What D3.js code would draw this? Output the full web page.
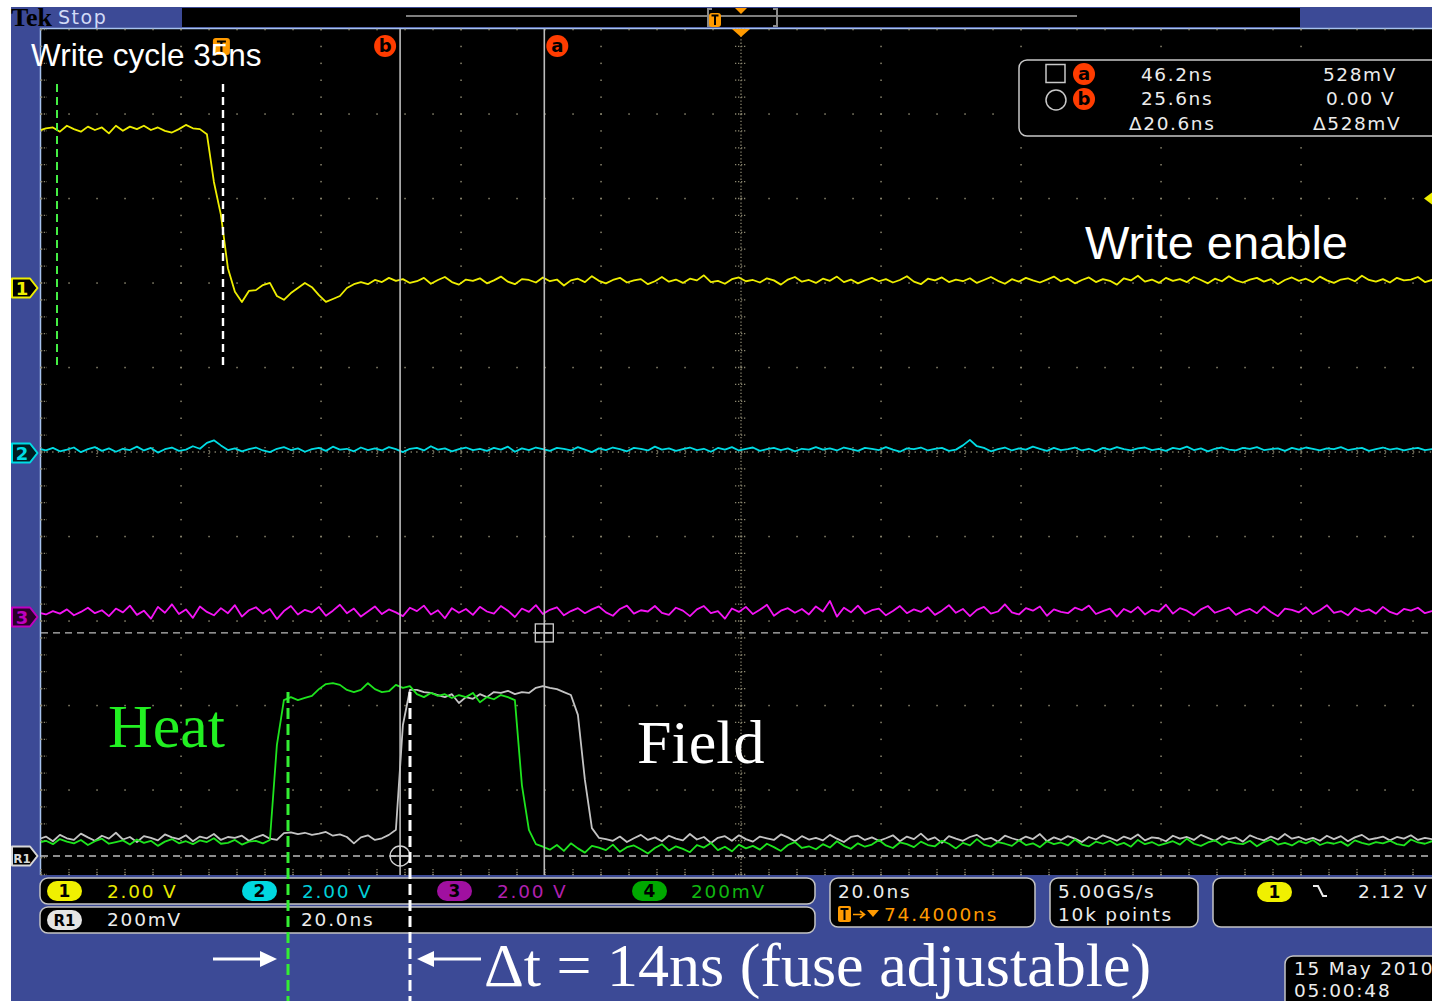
<!DOCTYPE html>
<html><head><meta charset="utf-8">
<script src="https://cdn.jsdelivr.net/npm/d3@7"></script>
<style>html,body{margin:0;padding:0;background:#fff;overflow:hidden}</style>
</head><body>
<svg id="c" width="1432" height="1001"></svg>
<script>
// ---------- DATA (1 ns sampling, first sample at t = -26 ns) ----------
const startTime = -26;
const ch1Volts = [3.72,3.78,3.80,3.70,3.84,3.76,3.70,3.82,3.74,3.80,3.66,3.84,3.72,3.82,3.76,3.84,3.74,3.80,3.72,3.68,3.76,3.86,3.78,3.76,
3.64,2.51,1.73,0.47,-0.09,-0.33,-0.07,-0.05,
0.07,0.12,-0.19,-0.28,-0.12,0.00,0.12,0.02,-0.17,-0.33,-0.26,-0.19,0.00,0.09,0.14,0.09,0.19,0.14,0.24,0.17,
0.21,0.12,0.16,0.24,0.10,0.19,0.26,0.14,0.08,0.20,0.17,0.23,0.11,0.18,0.27,0.15,0.09,0.21,0.19,0.13,
0.25,0.16,0.20,0.06,0.18,0.22,0.14,0.28,0.17,0.11,0.19,0.24,0.13,0.18,0.21,0.09,0.16,0.26,0.15,0.20,
0.12,0.22,0.18,0.30,0.14,0.17,0.10,0.21,0.25,0.16,0.19,0.13,0.23,0.18,0.08,0.20,0.26,0.15,0.19,0.12,
0.22,0.17,0.27,0.14,0.20,0.11,0.18,0.24,0.16,0.21,0.13,0.19,0.28,0.15,0.09,0.22,0.18,0.25,0.14,0.20,
0.16,0.23,0.12,0.19,0.26,0.17,0.10,0.21,0.15,0.24,0.18,0.13,0.20,0.27,0.16,0.22,0.11,0.19,0.25,0.14,
0.21,0.17,0.08,0.23,0.18,0.29,0.15,0.20,0.12,0.24,0.17,0.21,0.14,0.26,0.19,0.11,0.22,0.16,0.28,0.18,
0.13,0.20,0.24,0.15,0.21,0.09,0.19,0.25,0.17,0.22,0.14,0.27,0.18,0.12,0.20,0.23,0.16,0.29,0.19,0.15,
0.21,0.13,0.24,0.18,0.20,0.26,0.14,0.19,0.22];
const ch2Volts = [0.10,0.06,0.12,0.04,0.08,0.13,0.02,0.09,0.14,0.05,0.11,0.03,0.10,0.07,0.15,0.06,0.12,0.01,0.09,0.13,
0.05,0.08,0.16,0.10,0.24,0.30,0.18,0.07,0.11,0.04,0.09,0.13,0.06,0.02,0.10,0.14,0.07,0.11,0.03,0.09,
0.12,0.05,0.15,0.08,0.10,0.04,0.13,0.07,0.11,0.06,0.14,0.09,0.02,0.10,0.12,0.06,0.16,0.08,0.11,0.04,
0.09,0.13,0.07,0.10,0.05,0.12,0.08,0.15,0.03,0.11,0.07,0.13,0.09,0.05,0.12,0.10,0.06,0.14,0.08,0.02,
0.11,0.07,0.13,0.09,0.04,0.12,0.10,0.06,0.15,0.08,0.11,0.05,0.09,0.13,0.07,0.10,0.03,0.12,0.08,0.14,
0.06,0.10,0.13,0.05,0.09,0.12,0.07,0.11,0.04,0.10,0.08,0.14,0.08,0.11,0.06,0.13,0.09,0.05,0.12,0.10,
0.07,0.14,0.08,0.03,0.11,0.09,0.13,0.06,0.10,0.12,0.05,0.08,0.18,0.31,0.16,0.12,0.04,0.09,0.13,0.06,
0.11,0.08,0.15,0.10,0.05,0.12,0.07,0.09,0.13,0.06,0.10,0.04,0.12,0.08,0.14,0.09,0.06,0.11,0.13,0.07,
0.10,0.05,0.12,0.09,0.15,0.07,0.11,0.04,0.10,0.13,0.08,0.06,0.12,0.10,0.14,0.07,0.09,0.11,0.05,0.12,
0.08,0.13,0.10,0.06,0.11,0.09,0.14,0.07,0.10,0.12,0.05,0.09,0.13,0.08,0.11,0.06,0.10,0.12,0.07,0.09,
0.11];
const ch3Volts = [0.10,0.06,0.14,0.08,0.18,0.04,0.12,0.22,0.09,0.16,0.02,0.20,0.11,0.27,0.05,0.15,-0.04,0.24,0.10,0.30,
0.07,0.18,-0.02,0.25,0.12,0.04,0.21,0.09,0.28,0.01,0.16,0.23,0.08,0.19,-0.05,0.14,0.26,0.06,0.17,0.11,
0.24,0.03,0.15,0.29,0.09,0.20,0.01,0.13,0.25,0.07,0.18,0.11,0.02,0.22,0.14,0.27,0.06,0.16,-0.03,0.21,
0.10,0.19,0.05,0.24,0.13,0.08,0.26,0.15,0.00,0.20,0.12,0.28,0.07,0.17,0.23,0.04,0.14,0.21,0.09,0.18,
0.25,0.11,0.03,0.19,0.27,0.08,0.16,0.13,0.26,0.10,0.05,0.22,0.15,0.02,0.18,0.26,0.09,0.14,-0.04,0.20,
0.12,0.24,0.07,0.17,0.29,0.03,0.15,0.21,0.10,0.19,0.06,0.25,0.13,0.38,0.01,0.22,0.11,0.27,0.08,0.16,
0.20,0.04,0.14,0.26,0.09,0.18,0.12,0.23,0.05,0.15,0.28,0.10,0.19,0.02,0.17,0.24,0.08,0.13,0.30,0.11,
0.06,0.21,0.15,0.25,0.03,0.18,0.12,0.09,0.22,0.16,0.27,0.07,0.14,0.20,0.01,0.19,0.11,0.24,0.06,0.17,
0.13,0.29,0.08,0.21,0.15,0.04,0.18,0.26,0.10,0.16,0.22,0.05,0.14,0.19,0.09,0.25,0.12,0.02,0.20,0.17,
0.11,0.23,0.07,0.16,0.28,0.10,0.14,0.04,0.21,0.13,0.18,0.08,0.24,0.12,0.06,0.19,0.15,0.22,0.09,0.14,
0.12];
const ch4mV = [32,36,28,40,34,30,38,26,35,41,29,33,37,27,39,31,36,24,34,40,30,35,28,37,33,42,29,31,38,27,34,36,30,
38,263,369,
376,369,374,379,395,407,409,405,393,388,393,409,395,388,390,405,398,402,383,376,386,379,383,374,381,376,386,364,376,371,381,376,369,
168,62,28,
22,15,26,12,30,18,8,24,20,14,27,10,21,25,16,6,19,28,13,23,17,9,26,20,31,14,22,11,27,18,
24,15,29,21,12,26,33,19,23,16,28,20,35,24,17,30,22,27,38,25,19,32,28,21,34,26,23,36,29,18,
31,25,40,27,22,33,29,24,37,26,30,21,35,28,32,25,39,27,23,34,29,36,26,31,22,38,28,33,25,30,
35,27,41,29,24,32,37,26,34,30,28,36,23,33,39,27,31,25,35,30,38,26,32,29,34,24,37,31,27,33,
30,36,28,25,39,32,29,35,31];
const ref1mV = [40,46,35,50,42,38,53,44,36,48,41,55,39,45,33,47,43,37,51,44,40,49,35,46,42,52,38,45,43,48,
36,44,50,41,38,54,56,52,55,50,53,57,48,51,45,30,44,49,38,42,50,
62,310,393,
393,388,386,381,376,383,362,376,372,383,376,388,386,391,383,388,386,398,402,398,395,388,381,
334,180,66,43,
40,36,46,33,42,50,38,44,35,48,41,37,52,39,45,31,43,47,36,49,40,34,46,42,38,51,44,35,47,39,
43,37,50,41,33,45,48,38,44,36,42,49,35,46,40,53,38,44,31,47,41,36,45,50,39,43,34,48,42,37,
46,40,52,35,44,38,47,41,33,45,39,49,43,36,46,40,51,37,44,42,35,48,41,45,38,50,43,36,47,40,
44,34,49,42,37,46,39,52,41,45,38,43,36,48,40,47,35,44,50,39,42,46,37,45,41,49,38,43,40,44];

const cursorA = [46.2, 528];   // ns, mV (ref scale)
const cursorB = [25.6, 0];
const readoutTimes = ["46.2ns", "25.6ns", "Δ20.6ns"];
const readoutVolts = ["528mV", "0.00 V", "Δ528mV"];
const chanScales = ["2.00 V", "2.00 V", "2.00 V", "200mV"];
const chanNames = ["1", "2", "3", "4"];
const triggerLevel = 2.12; // V on ch1

// ---------- SETUP ----------
const svg = d3.select('#c');
const BLUE = '#3c4a96';
const GRID = '#8a866f';
const COL = {c1:'#eeee00', c2:'#00dce4', c3:'#f414f4', c4:'#1ee41e', r1:'#c4c4c4'};
const MONO = "'DejaVu Sans', sans-serif";

const x = d3.scaleLinear().domain([-25.7, 174.3]).range([41, 1441]);   // 20 ns/div
const div = d3.scaleLinear().domain([0, 10]).range([29.5, 874.5]);     // vertical divisions
const y1 = d3.scaleLinear().domain([0, 2]).range([288, 288 - 84.5]);   // 2 V/div
const y2 = d3.scaleLinear().domain([0, 2]).range([453, 453 - 84.5]);
const y3 = d3.scaleLinear().domain([0, 2]).range([617, 617 - 84.5]);
const yR = d3.scaleLinear().domain([0, 200]).range([856, 856 - 84.5]); // 200 mV/div

svg.append('rect').attr('width', 1432).attr('height', 1001).attr('fill', '#fff');
svg.append('rect').attr('x', 11).attr('y', 7).attr('width', 1421).attr('height', 994).attr('fill', BLUE);

// ---------- TOP BAR ----------
svg.append('rect').attr('x', 182).attr('y', 8).attr('width', 1118).attr('height', 19).attr('fill', '#000');
svg.append('text').attr('x', 11).attr('y', 26).text('Tek')
  .attr('font-family', "'Liberation Serif', serif").attr('font-weight', 'bold').attr('font-size', 26).attr('fill', '#000');
svg.append('text').attr('x', 58).attr('y', 24).text('Stop')
  .attr('font-family', MONO).attr('font-size', 19).attr('letter-spacing', 1.5).attr('fill', '#d2daf6');
svg.append('line').attr('x1', 406).attr('x2', 1077).attr('y1', 16).attr('y2', 16).attr('stroke', '#a8a8a8').attr('stroke-width', 1.5);
svg.append('path').attr('d', 'M712,9 H708 V26 H712 M773,9 H777 V26 H773').attr('fill', 'none').attr('stroke', '#8a8a8a').attr('stroke-width', 2);
svg.append('rect').attr('x', 709).attr('y', 13).attr('width', 12).attr('height', 14).attr('rx', 3).attr('fill', '#ff9a00');
svg.append('path').attr('d', 'M711.5,15.5 H718.5 M715,15.5 V25').attr('stroke', '#000').attr('stroke-width', 2);
svg.append('path').attr('d', 'M735,8 L747,8 L741,14 Z').attr('fill', '#ff9a00');

// ---------- GRATICULE ----------
svg.append('rect').attr('x', 40).attr('y', 28).attr('width', 1392).attr('height', 847).attr('fill', '#000');
svg.append('line').attr('x1', 40).attr('x2', 1432).attr('y1', 28.5).attr('y2', 28.5).attr('stroke', '#a6c2ee').attr('stroke-width', 1.5);
svg.append('line').attr('x1', 40.5).attr('x2', 40.5).attr('y1', 28).attr('y2', 875).attr('stroke', '#a6c2ee').attr('stroke-width', 1.5);
svg.append('clipPath').attr('id', 'gclip').append('rect').attr('x', 41).attr('y', 29).attr('width', 1391).attr('height', 846);

const grid = svg.append('g');
const majorT = d3.range(0, 11).map(k => -25.7 + 20 * k);
const dots = [];
majorT.forEach((t, k) => { if (k !== 5) d3.range(0, 51).forEach(j => dots.push([x(t), div(j / 5)])); });
d3.range(0, 11).forEach(k => { if (k !== 5) d3.range(0, 51).forEach(j => dots.push([41 + 28 * j, div(k)])); });
grid.selectAll('rect.d').data(dots).join('rect').attr('class', 'd')
  .attr('x', d => d[0] - 0.7).attr('y', d => d[1] - 0.7).attr('width', 1.5).attr('height', 1.5).attr('fill', GRID);
// center cross with finer dots and tick marks
const cx = x(74.3), cy = div(5);
grid.append('line').attr('x1', cx).attr('x2', cx).attr('y1', 29).attr('y2', 875).attr('stroke', GRID).attr('stroke-width', 1.3).attr('stroke-dasharray', '1.3,2.1');
grid.append('line').attr('x1', 41).attr('x2', 1432).attr('y1', cy).attr('y2', cy).attr('stroke', GRID).attr('stroke-width', 1.3).attr('stroke-dasharray', '1.3,4.3');
grid.selectAll('line.ty').data(d3.range(0, 51)).join('line').attr('class', 'ty')
  .attr('x1', cx - 6).attr('x2', cx + 6).attr('y1', j => div(j / 5)).attr('y2', j => div(j / 5))
  .attr('stroke', GRID).attr('stroke-width', 1.3).attr('stroke-dasharray', '1.3,1.7');
grid.selectAll('line.tx').data(d3.range(0, 51)).join('line').attr('class', 'tx')
  .attr('y1', cy - 5).attr('y2', cy + 5).attr('x1', j => 41 + 28 * j).attr('x2', j => 41 + 28 * j)
  .attr('stroke', GRID).attr('stroke-width', 1.3).attr('stroke-dasharray', '1.3,1.7');
// edge ticks
grid.selectAll('line.bt').data(d3.range(0, 51)).join('line').attr('class', 'bt')
  .attr('x1', j => 41 + 28 * j).attr('x2', j => 41 + 28 * j).attr('y1', 869).attr('y2', 875)
  .attr('stroke', GRID).attr('stroke-width', 1.3).attr('stroke-dasharray', '1.3,1.5');
grid.selectAll('line.lt').data(d3.range(0, 51)).join('line').attr('class', 'lt')
  .attr('y1', j => div(j / 5)).attr('y2', j => div(j / 5)).attr('x1', 41).attr('x2', 47)
  .attr('stroke', GRID).attr('stroke-width', 1.3).attr('stroke-dasharray', '1.3,1.5');

// ---------- TRACES ----------
const traces = svg.append('g').attr('clip-path', 'url(#gclip)');
function trace(vals, ys, color) {
  const line = d3.line().x((d, i) => x(startTime + i)).y(d => ys(d));
  traces.append('path').datum(vals).attr('d', line).attr('fill', 'none')
    .attr('stroke', color).attr('stroke-width', 1.8).attr('stroke-linejoin', 'round');
}
trace(ref1mV, yR, COL.r1);
trace(ch4mV, yR, COL.c4);
trace(ch3Volts, y3, COL.c3);
trace(ch2Volts, y2, COL.c2);
trace(ch1Volts, y1, COL.c1);

// ---------- CURSORS ----------
const cur = svg.append('g');
[cursorA, cursorB].forEach(c => {
  cur.append('line').attr('x1', x(c[0])).attr('x2', x(c[0])).attr('y1', 29).attr('y2', 875)
    .attr('stroke', '#bcbcbc').attr('stroke-width', 1.6);
  cur.append('line').attr('x1', 41).attr('x2', 1432).attr('y1', yR(c[1])).attr('y2', yR(c[1]))
    .attr('stroke', '#bcbcbc').attr('stroke-width', 1.4).attr('stroke-dasharray', '7,5');
});
const ax = x(cursorA[0]), ay = yR(cursorA[1]);
cur.append('rect').attr('x', ax - 9).attr('y', ay - 9).attr('width', 18).attr('height', 18).attr('fill', 'none').attr('stroke', '#d0d0d0').attr('stroke-width', 1.3);
cur.append('path').attr('d', `M${ax - 9},${ay} H${ax + 9} M${ax},${ay - 9} V${ay + 9}`).attr('stroke', '#d0d0d0').attr('stroke-width', 1.3);
const bx = x(cursorB[0]), by = yR(cursorB[1]);
cur.append('circle').attr('cx', bx).attr('cy', by).attr('r', 10).attr('fill', 'none').attr('stroke', '#d0d0d0').attr('stroke-width', 1.3);
cur.append('path').attr('d', `M${bx - 10},${by} H${bx + 10} M${bx},${by - 10} V${by + 10}`).attr('stroke', '#d0d0d0').attr('stroke-width', 1.3);
function badge(g, cxp, cyp, letter) {
  g.append('circle').attr('cx', cxp).attr('cy', cyp).attr('r', 11).attr('fill', '#ff3c00');
  g.append('text').attr('x', cxp).attr('y', cyp + 6).attr('text-anchor', 'middle').text(letter)
    .attr('font-family', MONO).attr('font-weight', 'bold').attr('font-size', 18).attr('fill', '#000');
}
badge(cur, x(cursorB[0]) - 15, 46, 'b');
badge(cur, x(cursorA[0]) + 13, 46, 'a');

// trigger markers
svg.append('path').attr('d', `M${cx - 9},29 L${cx + 9},29 L${cx},37 Z`).attr('fill', '#ff9a00');
svg.append('path').attr('d', `M1424,${y1(triggerLevel)} L1432,${y1(triggerLevel) - 6} L1432,${y1(triggerLevel) + 6} Z`).attr('fill', COL.c1);
const tx0 = x(0);
svg.append('rect').attr('x', tx0 - 8).attr('y', 38).attr('width', 17).attr('height', 17).attr('rx', 3).attr('fill', '#ff9a00');
svg.append('path').attr('d', `M${tx0 - 4},41.5 H${tx0 + 5} M${tx0 + 0.5},41.5 V53`).attr('stroke', '#000').attr('stroke-width', 2.2);

// ---------- CHANNEL MARKERS ----------
function marker(yc, label, color, fill, fs) {
  const g = svg.append('g');
  g.append('path').attr('d', `M12,${yc - 9.5} H30 L37.5,${yc} L30,${yc + 9.5} H12 Z`)
    .attr('fill', fill).attr('stroke', color).attr('stroke-width', 2).attr('stroke-linejoin', 'round');
  g.append('text').attr('x', 22).attr('y', yc + 6.5).attr('text-anchor', 'middle').text(label)
    .attr('font-family', MONO).attr('font-weight', 'bold').attr('font-size', fs).attr('fill', color);
}
marker(288, '1', COL.c1, '#000', 18);
marker(453, '2', COL.c2, '#001c20', 18);
marker(617, '3', '#c000c0', '#2a002a', 18);
marker(856, 'R1', '#d8d8d8', '#000', 12);

// ---------- CURSOR READOUT ----------
const ro = svg.append('g');
ro.append('rect').attr('x', 1019).attr('y', 60).attr('width', 430).attr('height', 76).attr('rx', 8)
  .attr('fill', '#000').attr('stroke', '#c8c8c8').attr('stroke-width', 1.5);
ro.append('rect').attr('x', 1046).attr('y', 64.5).attr('width', 19).attr('height', 18).attr('fill', 'none').attr('stroke', '#c8c8c8').attr('stroke-width', 1.5);
ro.append('circle').attr('cx', 1056).attr('cy', 100).attr('r', 10).attr('fill', 'none').attr('stroke', '#c8c8c8').attr('stroke-width', 1.5);
badge(ro, 1084, 74, 'a');
badge(ro, 1084, 99, 'b');
const rowY = [81, 105, 130];
ro.selectAll('text.rt').data(readoutTimes).join('text').attr('class', 'rt')
  .attr('x', (d, i) => i === 2 ? 1129 : 1141).attr('y', (d, i) => rowY[i]).text(d => d)
  .attr('font-family', MONO).attr('font-size', 18.5).attr('letter-spacing', 1.6).attr('fill', '#ececec');
ro.selectAll('text.rv').data(readoutVolts).join('text').attr('class', 'rv')
  .attr('x', (d, i) => [1323, 1326, 1313][i]).attr('y', (d, i) => rowY[i]).text(d => d)
  .attr('font-family', MONO).attr('font-size', 18.5).attr('letter-spacing', 1.6).attr('fill', '#ececec');

// ---------- ANNOTATIONS ----------
const SANS = "'Liberation Sans', Arial, sans-serif";
const SERIF = "'Liberation Serif', 'Times New Roman', serif";
svg.append('text').attr('x', 31).attr('y', 66).text('Write cycle 35ns')
  .attr('font-family', SANS).attr('font-size', 31.5).attr('fill', '#fff');
svg.append('text').attr('x', 1085).attr('y', 259).text('Write enable')
  .attr('font-family', SANS).attr('font-size', 47).attr('fill', '#fff');
svg.append('text').attr('x', 108).attr('y', 747).text('Heat')
  .attr('font-family', SERIF).attr('font-size', 62).attr('fill', '#22f022');
svg.append('text').attr('x', 637).attr('y', 763).text('Field')
  .attr('font-family', SERIF).attr('font-size', 62).attr('fill', '#fff');
svg.append('line').attr('x1', 57).attr('x2', 57).attr('y1', 84).attr('y2', 370)
  .attr('stroke', '#44ee44').attr('stroke-width', 2).attr('stroke-dasharray', '8,5');
svg.append('line').attr('x1', 223).attr('x2', 223).attr('y1', 84).attr('y2', 370)
  .attr('stroke', '#fff').attr('stroke-width', 2.4).attr('stroke-dasharray', '8,5');

// ---------- STATUS BAR ----------
const sb = svg.append('g');
function box(x0, y0, w, h) {
  sb.append('rect').attr('x', x0).attr('y', y0).attr('width', w).attr('height', h).attr('rx', 8)
    .attr('fill', '#000').attr('stroke', '#c4c4c4').attr('stroke-width', 1.5);
}
function stext(xp, yp, txt, color) {
  return sb.append('text').attr('x', xp).attr('y', yp).text(txt)
    .attr('font-family', MONO).attr('font-size', 18.5).attr('letter-spacing', 1.8).attr('fill', color);
}
function pill(x0, y0, label, fill, tcolor, fs) {
  sb.append('rect').attr('x', x0).attr('y', y0).attr('width', 35).attr('height', 20).attr('rx', 10).attr('fill', fill);
  sb.append('text').attr('x', x0 + 17.5).attr('y', y0 + 16).attr('text-anchor', 'middle').text(label)
    .attr('font-family', MONO).attr('font-weight', 'bold').attr('font-size', fs).attr('fill', tcolor);
}
box(40, 878, 775, 26);
box(40, 907, 775, 26);
const pillX = [47, 242, 437, 632];
const pillFill = ['#f0f000', '#00d8e0', '#a010a0', '#00a800'];
const scaleCol = ['#eaea00', '#00d0d8', '#b020b0', '#10b810'];
const scaleX = [107, 302, 497, 691];
chanNames.forEach((n, i) => {
  pill(pillX[i], 881, n, pillFill[i], '#000', 17);
  stext(scaleX[i], 898, chanScales[i], scaleCol[i]);
});
pill(47, 910, 'R1', '#e4e4e4', '#000', 15);
stext(107, 926, '200mV', '#ececec');
stext(301, 926, '20.0ns', '#ececec');

box(830, 878, 205, 49);
stext(838, 898, '20.0ns', '#ececec');
sb.append('rect').attr('x', 838).attr('y', 906).attr('width', 13).attr('height', 16).attr('rx', 2).attr('fill', '#ff9a00');
sb.append('path').attr('d', 'M840.5,909 H848.5 M844.5,909 V920').attr('stroke', '#000').attr('stroke-width', 2);
sb.append('path').attr('d', 'M853,914.5 H864 M860,911 L864.5,914.5 L860,918').attr('fill', 'none').attr('stroke', '#ff9a00').attr('stroke-width', 1.6);
sb.append('path').attr('d', 'M867,910 L879,910 L873,917 Z').attr('fill', '#ff9a00');
stext(884, 921, '74.4000ns', '#ff9a00');

box(1050, 878, 148, 49);
stext(1058, 898, '5.00GS/s', '#ececec');
stext(1058, 921, '10k points', '#ececec');

box(1213, 878, 240, 49);
pill(1257, 882, '1', '#f0f000', '#000', 17);
sb.append('path').attr('d', 'M1313,886 H1318 L1323,896 H1327').attr('fill', 'none').attr('stroke', '#ececec').attr('stroke-width', 2);
stext(1358, 898, triggerLevel.toFixed(2) + ' V', '#ececec');

box(1285, 956, 170, 60);
stext(1294, 975, '15 May 2010', '#ececec');
stext(1294, 997, '05:00:48', '#ececec');

// ---------- Δt ANNOTATION ----------
svg.append('line').attr('x1', 288).attr('x2', 288).attr('y1', 692).attr('y2', 1001)
  .attr('stroke', '#33ee33').attr('stroke-width', 3).attr('stroke-dasharray', '11,5');
svg.append('line').attr('x1', 410).attr('x2', 410).attr('y1', 692).attr('y2', 1001)
  .attr('stroke', '#fff').attr('stroke-width', 3).attr('stroke-dasharray', '11,5');
svg.append('path').attr('d', 'M213,959 H262').attr('stroke', '#fff').attr('stroke-width', 3);
svg.append('path').attr('d', 'M260,951 L277,959 L260,967 Z').attr('fill', '#fff');
svg.append('path').attr('d', 'M433,959 H481').attr('stroke', '#fff').attr('stroke-width', 3);
svg.append('path').attr('d', 'M434,951 L417,959 L434,967 Z').attr('fill', '#fff');
svg.append('text').attr('x', 484).attr('y', 986).text('Δt = 14ns (fuse adjustable)')
  .attr('font-family', SERIF).attr('font-size', 62).attr('fill', '#fff');
</script>
</body></html>
